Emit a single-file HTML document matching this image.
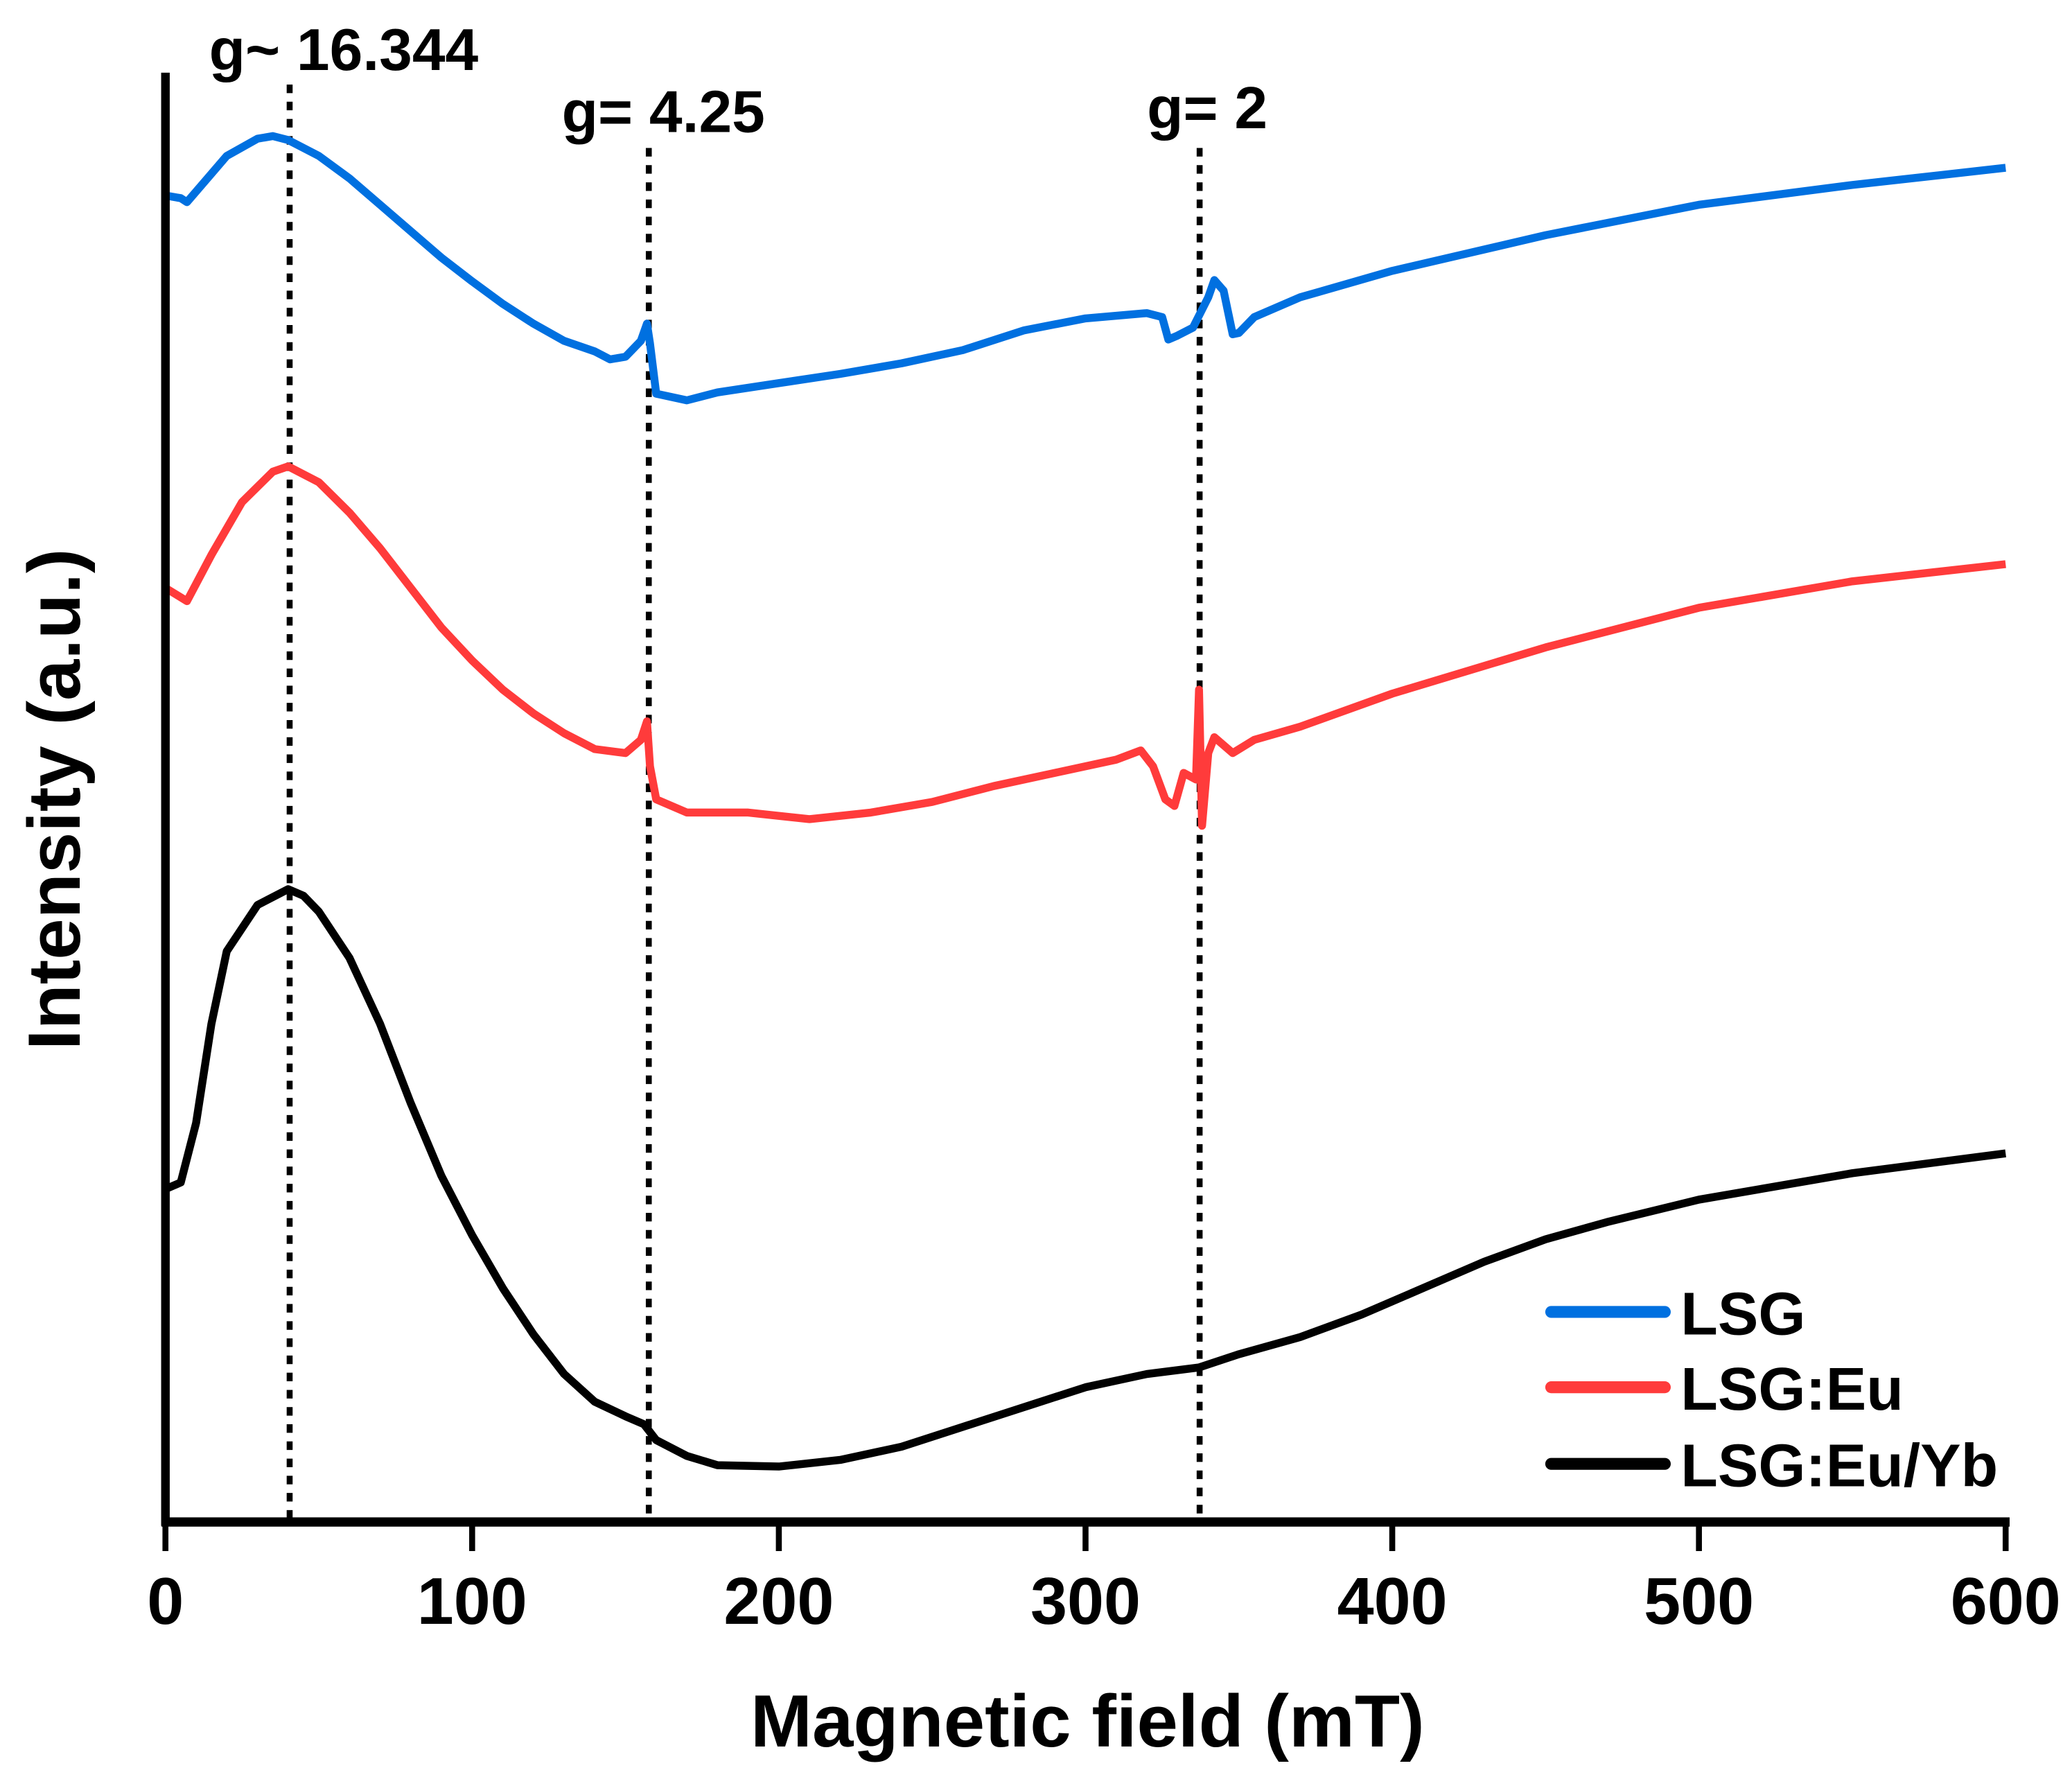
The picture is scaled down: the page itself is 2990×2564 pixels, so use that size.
<!DOCTYPE html>
<html><head><meta charset="utf-8"><style>
html,body{margin:0;padding:0;background:#fff;}
svg{display:block;}
text{font-family:"Liberation Sans",Arial,sans-serif;font-weight:bold;fill:#000;}
</style></head><body>
<svg id="chart" width="2990" height="2564" viewBox="0 0 1568 1345" xmlns="http://www.w3.org/2000/svg">
<g id="marks"></g>
<line x1="125" y1="55" x2="125" y2="1155" stroke="#000" stroke-width="6.5"/>
<line x1="122" y1="1152" x2="1521" y2="1152" stroke="#000" stroke-width="7"/>
<g id="ticks"></g>
<text x="823" y="1322" font-size="56" text-anchor="middle">Magnetic field (mT)</text>
<text transform="translate(60,605) rotate(-90)" font-size="56" text-anchor="middle">Intensity (a.u.)</text>
<text x="158" y="53" font-size="45">g~ 16.344</text>
<text x="425" y="100" font-size="45">g= 4.25</text>
<text x="868" y="97" font-size="45">g= 2</text>
<g>
<line x1="1174" y1="993" x2="1260" y2="993" stroke="#0070e0" stroke-width="9" stroke-linecap="round"/>
<text x="1272" y="1010" font-size="46">LSG</text>
<line x1="1174" y1="1050" x2="1260" y2="1050" stroke="#ff3b3b" stroke-width="9" stroke-linecap="round"/>
<text x="1272" y="1067" font-size="46">LSG:Eu</text>
<line x1="1174" y1="1108" x2="1260" y2="1108" stroke="#000" stroke-width="9" stroke-linecap="round"/>
<text x="1272" y="1125" font-size="46">LSG:Eu/Yb</text>
</g>
</svg>
<script>
const xTicks = [0,100,200,300,400,500,600];
const gLines = [40.5,157.6,337.2];
const gLineTops = [64,112,112];
// intensity in a.u.
const blueX = [0,5,7,10,20,30,35,40,50,60,70,80,90,100,110,120,130,140,145,150,155,157,158,160,170,180,200,220,240,260,280,300,320,325,327,330,335,340,342,345,348,350,355,370,400,450,500,550,600];
const blueY = [100.2,100,99.7,100.5,103.2,104.5,104.7,104.4,103.2,101.5,99.5,97.5,95.5,93.7,92,90.5,89.2,88.4,87.8,88,89.2,90.5,89,85.2,84.7,85.3,86,86.7,87.5,88.5,90,90.9,91.3,91,89.3,89.6,90.2,92.5,93.8,93,89.7,89.8,91,92.5,94.5,97.2,99.5,101,102.3];
const redX = [0,7,15,25,35,40,50,60,70,80,90,100,110,120,130,140,150,155,157,158,160,170,190,210,230,250,270,290,310,318,322,326,329,332,336,337,338,340,342,348,355,370,400,450,500,550,600];
const redY = [70.5,69.5,73,77,79.3,79.7,78.5,76.2,73.5,70.5,67.5,65,62.8,61,59.5,58.3,58,59,60.4,57,54.5,53.5,53.5,53,53.5,54.3,55.5,56.5,57.5,58.2,57,54.5,54,56.5,56,62.8,52.5,58,59.2,58,59,60,62.5,66,69,71,72.3];
const blackX = [0,5,10,15,20,30,40,45,50,60,70,80,90,100,110,120,130,140,150,156,160,170,180,200,220,240,260,280,300,320,337,350,370,390,410,430,450,470,500,550,600];
const blackY = [25,25.5,30,37.5,43,46.5,47.7,47.2,46,42.5,37.5,31.5,26,21.5,17.5,14,11,8.9,7.8,7.2,6,4.8,4.1,4,4.5,5.5,7,8.5,10,11,11.5,12.5,13.8,15.5,17.5,19.5,21.2,22.5,24.2,26.2,27.7];
const sx = v => 125 + v * (1518 - 125) / 600;
const sy = v => 1150 - v * 10;
const NS = "http://www.w3.org/2000/svg";
const marks = document.getElementById('marks');
gLines.forEach((g,i)=>{
  const l = document.createElementNS(NS,'line');
  
  
  l.setAttribute('x1', sx(g)); l.setAttribute('x2', sx(g));
  l.setAttribute('y1', gLineTops[i]); l.setAttribute('y2', 1150);
  l.setAttribute('stroke','#000'); l.setAttribute('stroke-width','4.5');
  l.setAttribute('stroke-dasharray','6.5 6.5');
  marks.appendChild(l);
});
function series(xs, ys, color, name){
  const p = document.createElementNS(NS,'path');
  
  
  let d = '';
  xs.forEach((x,i)=>{ d += (i?'L':'M') + sx(x).toFixed(1) + ',' + sy(ys[i]).toFixed(1); });
  p.setAttribute('d', d);
  p.setAttribute('fill','none'); p.setAttribute('stroke',color);
  p.setAttribute('stroke-width','6'); p.setAttribute('stroke-linejoin','round');
  marks.appendChild(p);
}
series(blueX, blueY, '#0070e0', 'series-lsg');
series(redX, redY, '#ff3b3b', 'series-lsg-eu');
series(blackX, blackY, '#000', 'series-lsg-eu-yb');
const ticks = document.getElementById('ticks');
xTicks.forEach(t=>{
  const l = document.createElementNS(NS,'line');
  
  
  l.setAttribute('x1', sx(t)); l.setAttribute('x2', sx(t));
  l.setAttribute('y1', 1152); l.setAttribute('y2', 1174);
  l.setAttribute('stroke','#000'); l.setAttribute('stroke-width','4.5');
  ticks.appendChild(l);
  const tx = document.createElementNS(NS,'text');
  
  
  tx.setAttribute('x', sx(t)); tx.setAttribute('y', 1229);
  tx.setAttribute('font-size','50'); tx.setAttribute('text-anchor','middle');
  tx.textContent = t;
  ticks.appendChild(tx);
});
</script>
</body></html>
